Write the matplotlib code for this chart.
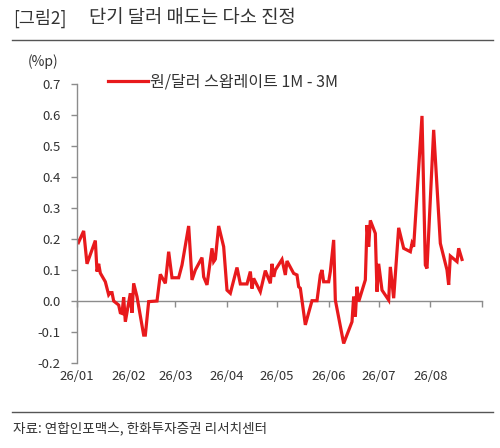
import matplotlib
matplotlib.use("Agg")
import matplotlib.pyplot as plt
import pandas as pd
from matplotlib.lines import Line2D

plt.rcParams['font.family'] = ['Noto Sans CJK KR', 'DejaVu Sans']

dates = ["2026-01-01", "2026-01-02", "2026-01-05", "2026-01-07", "2026-01-12", "2026-01-13",
         "2026-01-14", "2026-01-15", "2026-01-18", "2026-01-20", "2026-01-21", "2026-01-22",
         "2026-01-23", "2026-01-26", "2026-01-27", "2026-01-28", "2026-01-29", "2026-01-30",
         "2026-02-02", "2026-02-03", "2026-02-04", "2026-02-06", "2026-02-10", "2026-02-11",
         "2026-02-13", "2026-02-18", "2026-02-20", "2026-02-23", "2026-02-25", "2026-02-27",
         "2026-03-03", "2026-03-05", "2026-03-09", "2026-03-11", "2026-03-13", "2026-03-17",
         "2026-03-18", "2026-03-20", "2026-03-23", "2026-03-24", "2026-03-25", "2026-03-27",
         "2026-03-30", "2026-04-01", "2026-04-03", "2026-04-07", "2026-04-09", "2026-04-13",
         "2026-04-15", "2026-04-16", "2026-04-17", "2026-04-21", "2026-04-24", "2026-04-27",
         "2026-04-28", "2026-04-29", "2026-04-30", "2026-05-04", "2026-05-06", "2026-05-07",
         "2026-05-11", "2026-05-13", "2026-05-14", "2026-05-15", "2026-05-18", "2026-05-22",
         "2026-05-25", "2026-05-27", "2026-05-28", "2026-05-29", "2026-06-01", "2026-06-02",
         "2026-06-04", "2026-06-05", "2026-06-10", "2026-06-15", "2026-06-16", "2026-06-17",
         "2026-06-18", "2026-06-19", "2026-06-23", "2026-06-24", "2026-06-25", "2026-06-26",
         "2026-06-29", "2026-06-30", "2026-07-01", "2026-07-03", "2026-07-07", "2026-07-08",
         "2026-07-10", "2026-07-13", "2026-07-16", "2026-07-20", "2026-07-21", "2026-07-22",
         "2026-07-27", "2026-07-29", "2026-07-30", "2026-08-03", "2026-08-07", "2026-08-11",
         "2026-08-12", "2026-08-13", "2026-08-17", "2026-08-18", "2026-08-20"]
swap_spread = [0.197, 0.19, 0.226, 0.12, 0.195, 0.095,
               0.12, 0.09, 0.062, 0.02, 0.027, 0.027,
               0.0, -0.013, -0.038, -0.04, 0.012, -0.067,
               0.025, -0.038, 0.057, 0.014, -0.11, -0.11,
               -0.002, 0.0, 0.086, 0.057, 0.159, 0.075,
               0.075, 0.116, 0.242, 0.068, 0.1, 0.14,
               0.078, 0.052, 0.17, 0.127, 0.135, 0.242,
               0.175, 0.035, 0.025, 0.108, 0.055, 0.055,
               0.095, 0.04, 0.073, 0.03, 0.098, 0.057,
               0.12, 0.078, 0.1, 0.134, 0.084, 0.129,
               0.089, 0.084, 0.046, 0.041, -0.077, 0.001,
               0.001, 0.084, 0.1, 0.062, 0.062, 0.095,
               0.197, 0.003, -0.137, -0.067, 0.014, -0.05,
               0.046, -0.002, 0.068, 0.245, 0.175, 0.26,
               0.218, 0.03, 0.12, 0.035, 0.003, 0.11,
               0.009, 0.236, 0.17, 0.159, 0.186, 0.175,
               0.597, 0.116, 0.105, 0.552, 0.186, 0.1,
               0.052, 0.145, 0.127, 0.17, 0.134]

month_ticks = ["2026-01-01", "2026-02-01", "2026-03-01", "2026-04-01", "2026-05-01",
               "2026-06-01", "2026-07-01", "2026-08-01", "2026-09-01"]
month_labels = ["26/01", "26/02", "26/03", "26/04", "26/05", "26/06", "26/07", "26/08"]
y_ticks = [0.7, 0.6, 0.5, 0.4, 0.3, 0.2, 0.1, 0.0, -0.1, -0.2]

title_tag = "[그림2]"
title = "단기 달러 매도는 다소 진정"
source = "자료: 연합인포맥스, 한화투자증권 리서치센터"
series_name = "원/달러 스왑레이트 1M - 3M"
unit = "(%p)"

RED = "#e8191c"
GRAY = "#8c8c8c"
TXT = "#333333"

x = pd.to_datetime(dates)
ticks = pd.to_datetime(month_ticks)

fig = plt.figure(figsize=(5.0, 4.48), dpi=100)
ax = fig.add_axes([77 / 500, 85 / 448, 405 / 500, 279 / 448])

ax.plot(x, swap_spread, color=RED, lw=2.3, solid_joinstyle='miter')
ax.set_xlim(ticks[0], ticks[-1])
ax.set_ylim(-0.2, 0.7)

ax.set_yticks(y_ticks)
ax.set_yticklabels([f"{v:.1f}" for v in y_ticks], fontsize=9.5, color=TXT)
ax.tick_params(axis='y', direction='out', length=4, width=1, color=GRAY, pad=8)

ax.set_xticks(ticks[:-1])
ax.set_xticklabels(month_labels, fontsize=9.5, color=TXT)
ax.tick_params(axis='x', length=0, pad=5)

for s in ['top', 'right', 'bottom']:
    ax.spines[s].set_visible(False)
ax.spines['left'].set_color(GRAY)
ax.spines['left'].set_linewidth(1)

zero_ax = ax.secondary_xaxis(2 / 9)
zero_ax.set_xticks(ticks)
zero_ax.set_xticklabels([])
zero_ax.tick_params(axis='x', direction='out', length=4, width=1, color=GRAY)
zero_ax.spines['bottom'].set_color(GRAY)
zero_ax.spines['bottom'].set_linewidth(1)
ax.set_zorder(2)
ax.patch.set_visible(False)

handle = Line2D([], [], color=RED, lw=2.3)
fig.legend([handle], [series_name], loc='center left',
           bbox_to_anchor=(108 / 500, 1 - 82 / 448), bbox_transform=fig.transFigure,
           frameon=False, fontsize=11.5, handlelength=2.5, handletextpad=0.15,
           borderpad=0, borderaxespad=0, labelcolor=TXT)

fig.text(43 / 500, 1 - 62 / 448, unit, fontsize=10, color=TXT, ha='center', va='center')
fig.text(13 / 500, 1 - 18 / 448, title_tag, fontsize=12.5, color=TXT, ha='left', va='center')
fig.text(89 / 500, 1 - 18 / 448, title, fontsize=13.5, color=TXT, ha='left', va='center')
fig.text(13 / 500, 1 - 428 / 448, source, fontsize=9.8, color=TXT, ha='left', va='center')

fig.add_artist(Line2D([12 / 500, 493 / 500], [1 - 40 / 448, 1 - 40 / 448],
                      transform=fig.transFigure, color="#555555", lw=1))
fig.add_artist(Line2D([12 / 500, 493 / 500], [1 - 412 / 448, 1 - 412 / 448],
                      transform=fig.transFigure, color="#555555", lw=1))

fig.savefig("out.png", dpi=100)
